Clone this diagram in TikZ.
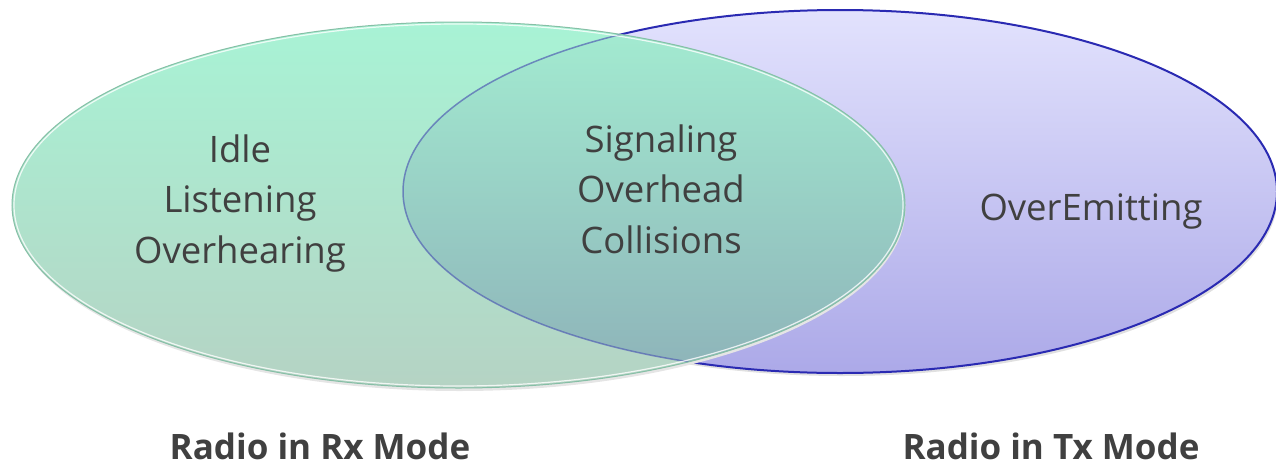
\documentclass[tikz,border=0pt]{standalone}
\usepackage{fontspec}
\setmainfont{Open Sans}
\begin{document}
\begin{tikzpicture}[x=1pt,y=-1pt,
  txt/.style={anchor=base,inner sep=0pt,text=txtgray,font=\fontsize{36.5}{44}\selectfont},
  lbl/.style={anchor=base,inner sep=0pt,text=txtgray,font=\fontsize{35}{42}\selectfont\bfseries}]
\definecolor{txtgray}{HTML}{404040}
\definecolor{bluetop}{HTML}{E2E2FD}
\definecolor{bluebot}{HTML}{ACA9E8}
\definecolor{blueline}{HTML}{2A2AB2}
\definecolor{greentop}{HTML}{A8F3D5}
\definecolor{greenbot}{HTML}{B5D3C4}
\definecolor{greenline}{HTML}{86BFA6}
\definecolor{ovtop}{HTML}{A3ECD1}
\definecolor{ovbot}{HTML}{8DB1B8}
\useasboundingbox (0,0) rectangle (1276,469);
% soft shadows
\fill[black!12] (842,195) ellipse [x radius=436pt, y radius=181pt];
\fill[white] (840,191.5) ellipse [x radius=437pt, y radius=181pt];
% blue ellipse (Tx)
\shade[top color=bluetop,bottom color=bluebot] (840,191.5) ellipse [x radius=437pt, y radius=181.5pt];
\draw[blueline,line width=2pt] (840,191.5) ellipse [x radius=437pt, y radius=181.5pt];
% green ellipse (Rx)
\fill[black!10] (459.5,208) ellipse [x radius=446pt, y radius=183pt];
\shade[top color=greentop,bottom color=greenbot] (458.5,205) ellipse [x radius=446.5pt, y radius=183pt];
% overlap
\begin{scope}
\clip (840,191.5) ellipse [x radius=437pt, y radius=181.5pt];
\shade[top color=ovtop,bottom color=ovbot] (458.5,205) ellipse [x radius=446.5pt, y radius=183pt];
\end{scope}
\begin{scope}
\clip (458.5,205) ellipse [x radius=446.5pt, y radius=183pt];
\draw[blueline!60!ovbot,line width=1.5pt,opacity=0.7] (840,191.5) ellipse [x radius=437pt, y radius=181.5pt];
\end{scope}
\draw[greenline,line width=1pt] (458.5,205) ellipse [x radius=446.5pt, y radius=183pt];
\draw[white,line width=1.2pt,opacity=0.8] (458.5,205) ellipse [x radius=444.5pt, y radius=181pt];
% texts
\node[txt] (idle) at (240,162) {Idle};
\node[txt] (listen) at (240,212.5) {Listening};
\node[txt] (overh) at (240,263) {Overhearing};
\node[txt] (sig) at (661,152) {Signaling};
\node[txt] (ovhd) at (661,202.5) {Overhead};
\node[txt] (coll) at (661,253) {Collisions};
\node[txt] (overem) at (1091,220) {OverEmitting};
\node[lbl] (rx) at (320,459) {Radio in Rx Mode};
\node[lbl] (tx) at (1051,459) {Radio in Tx Mode};
\end{tikzpicture}
\end{document}
